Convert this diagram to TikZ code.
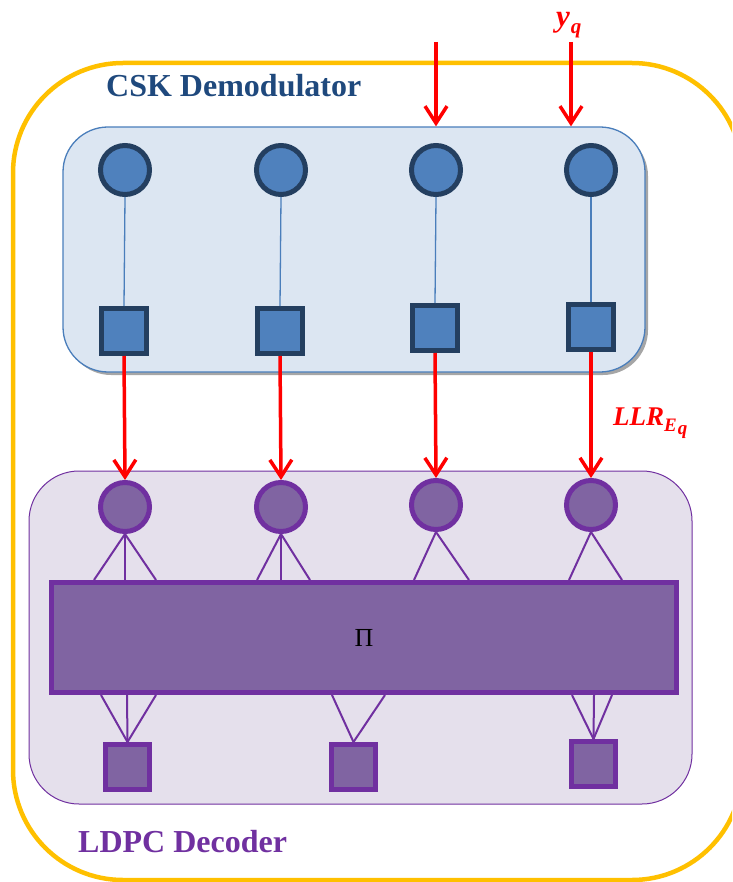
\documentclass[tikz,border=0pt]{standalone}
\usepackage{fontspec}
\setmainfont{Liberation Serif}
\usetikzlibrary{arrows.meta}
\definecolor{ygold}{HTML}{FFC000}
\definecolor{bfill}{HTML}{4F81BD}
\definecolor{bdark}{HTML}{243F60}
\definecolor{bbox}{HTML}{DCE6F2}
\definecolor{bedge}{HTML}{4A7EBB}
\definecolor{pbox}{HTML}{E5E0EC}
\definecolor{pedge}{HTML}{7030A0}
\definecolor{pfill}{HTML}{8064A2}
\definecolor{tblue}{HTML}{1F497D}
\tikzset{
  bcirc/.style={circle,draw=bdark,fill=bfill,line width=5pt,minimum size=49pt,inner sep=0pt},
  bsq/.style={rectangle,draw=bdark,fill=bfill,line width=5pt,minimum size=45pt,inner sep=0pt},
  pcirc/.style={circle,draw=pedge,fill=pfill,line width=5pt,minimum size=49pt,inner sep=0pt},
  psq/.style={rectangle,draw=pedge,fill=pfill,line width=5pt,minimum width=44pt,minimum height=45pt,inner sep=0pt},
  thinb/.style={draw=bedge,line width=1.3pt},
  thinp/.style={draw=pedge,line width=2pt},
  redarr/.style={draw=red,line width=3.5pt,-{Straight Barb[length=17pt,width=22pt]}},
  title/.style={font=\fontsize{32}{36}\selectfont\bfseries,anchor=base west,inner sep=0pt},
  redlbl/.style={text=red,font=\bfseries\itshape,inner sep=0pt,anchor=base west}
}
\begin{document}
\begin{tikzpicture}[x=1pt,y=-1pt]
\useasboundingbox (0,0) rectangle (732,882);
\begin{scope}
\clip (0,0) rectangle (732,882);
\node[draw=ygold,line width=4.5pt,rounded corners=110pt,minimum width=729pt,minimum height=817pt,inner sep=0pt] (outer) at (377.5,471.5) {};
\end{scope}
% CSK box
\fill[black!35,rounded corners=45pt] (66,131) rectangle (648,375);
\node[draw=bedge,fill=bbox,line width=1.3pt,rounded corners=45pt,minimum width=582pt,minimum height=245pt,inner sep=0pt] (csk) at (354,249.5) {};
\node[title,text=tblue] (cskt) at (106,97) {CSK Demodulator};
% LDPC box
\node[draw=pedge,fill=pbox,line width=1pt,rounded corners=50pt,minimum width=663pt,minimum height=333pt,inner sep=0pt] (ldpc) at (360.5,637.5) {};
\node[title,text=pedge] (ldpct) at (78,852) {LDPC Decoder};
% blue nodes
\node[bcirc] (bc1) at (125,170) {};
\node[bcirc] (bc2) at (281,170) {};
\node[bcirc] (bc3) at (436,170) {};
\node[bcirc] (bc4) at (591,170) {};
\node[bsq] (bs1) at (124,331) {};
\node[bsq] (bs2) at (280,331) {};
\node[bsq] (bs3) at (435,328) {};
\node[bsq] (bs4) at (591,327) {};
\foreach \i in {1,2,3,4} {\draw[thinb] (bc\i.south) -- (bs\i.north);}
% purple nodes
\node[pcirc] (pc1) at (125,507) {};
\node[pcirc] (pc2) at (281,507) {};
\node[pcirc] (pc3) at (436,505) {};
\node[pcirc] (pc4) at (591,505) {};
\node[rectangle,draw=pedge,fill=pfill,line width=5pt,minimum width=625pt,minimum height=110pt,inner sep=0pt,font=\fontsize{26}{30}\selectfont] (pi) at (364,637.5) {Π};
\node[psq] (ps1) at (127.5,767) {};
\node[psq] (ps2) at (353.5,767) {};
\node[psq] (ps3) at (593.5,764) {};
% purple connectors top
\foreach \x in {94,125,156} {\draw[thinp] (pc1.south) -- (\x,0 |- pi.north);}
\foreach \x in {257,281,310} {\draw[thinp] (pc2.south) -- (\x,0 |- pi.north);}
\foreach \x in {414,469} {\draw[thinp] (pc3.south) -- (\x,0 |- pi.north);}
\foreach \x in {569,622} {\draw[thinp] (pc4.south) -- (\x,0 |- pi.north);}
% purple connectors bottom
\foreach \x in {101,127,156} {\draw[thinp] (\x,0 |- pi.south) -- (ps1.north);}
\foreach \x in {332,385} {\draw[thinp] (\x,0 |- pi.south) -- (ps2.north);}
\foreach \x in {572,594,612} {\draw[thinp] (\x,0 |- pi.south) -- (ps3.north);}
% red arrows
\foreach \i in {1,2,3,4} {\draw[redarr] (bs\i.south) -- (pc\i.north);}
\coordinate (in1) at (436,42);
\coordinate (in2) at (571,42);
\draw[redarr] (in1) -- (in1 |- csk.north);
\draw[redarr] (in2) -- (in2 |- csk.north);
\node[redlbl] (yq) at (556,27) {\fontsize{31}{31}\selectfont y\kern1pt\raisebox{-7pt}{\fontsize{21}{21}\selectfont q}};
\node[redlbl] (llr) at (613,425) {\fontsize{27}{27}\selectfont LLR\raisebox{-6pt}{\fontsize{19}{19}\selectfont E\kern1pt\raisebox{-3pt}{q}}};
\end{tikzpicture}
\end{document}
